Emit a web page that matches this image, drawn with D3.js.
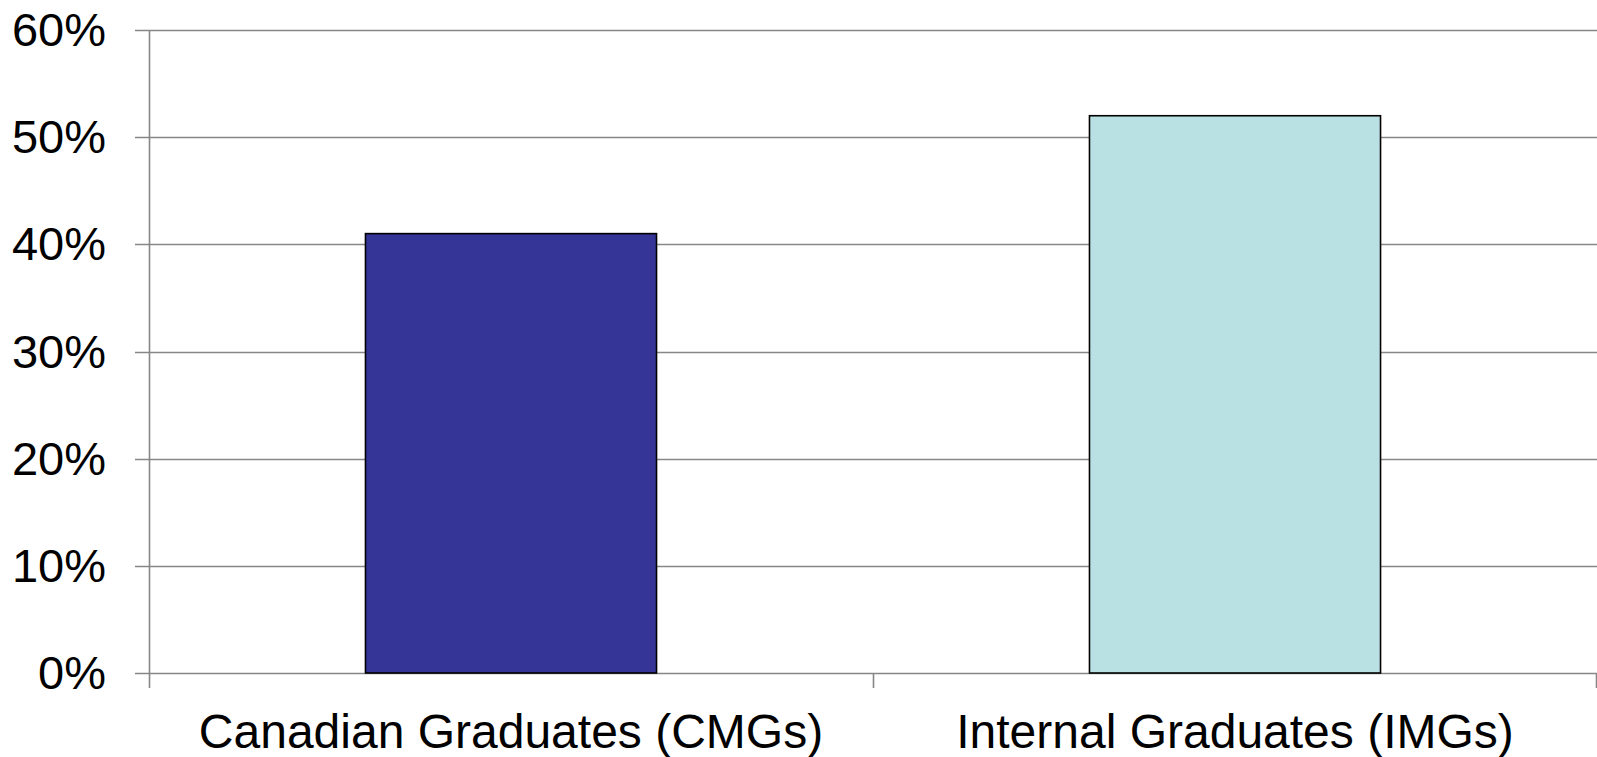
<!DOCTYPE html>
<html>
<head>
<meta charset="utf-8">
<script src="https://cdn.jsdelivr.net/npm/d3@7"></script>
<style>
  html, body { margin: 0; padding: 0; background: #ffffff; }
  svg { display: block; }
  text { font-family: "Liberation Sans", Arial, sans-serif; fill: #000; }
</style>
</head>
<body>
<svg id="chart" width="1597" height="757"></svg>
<script>
// Share of graduates, by place of medical training
const categories = ["Canadian Graduates (CMGs)", "Internal Graduates (IMGs)"];
const values = [0.41, 0.52];
const barColors = ["#353597", "#b9e0e3"];
const yTicks = [0, 0.1, 0.2, 0.3, 0.4, 0.5, 0.6];

const W = 1597, H = 757;
const margin = { top: 30, right: 0, bottom: 84, left: 149 };

const svg = d3.select("#chart");

const x = d3.scaleBand()
  .domain(categories)
  .range([margin.left, W - margin.right])
  .padding(0);

const y = d3.scaleLinear()
  .domain([0, 0.6])
  .range([H - margin.bottom, margin.top]);

const gridColor = "#878787";

// Horizontal gridlines (with small tick stubs left of the axis)
svg.append("g")
  .selectAll("line")
  .data(yTicks)
  .join("line")
  .attr("x1", margin.left - 14)
  .attr("x2", W - margin.right)
  .attr("y1", d => Math.round(y(d)) + 0.5)
  .attr("y2", d => Math.round(y(d)) + 0.5)
  .attr("stroke", gridColor)
  .attr("stroke-width", 1.6);

// Y axis line
svg.append("line")
  .attr("x1", margin.left + 0.5)
  .attr("x2", margin.left + 0.5)
  .attr("y1", y(0.6))
  .attr("y2", y(0) + 15)
  .attr("stroke", gridColor)
  .attr("stroke-width", 1.6);

// Category boundary ticks below the baseline
const boundaries = categories.slice(1).map(c => x(c)).concat([W - margin.right - 1]);
svg.append("g")
  .selectAll("line")
  .data(boundaries)
  .join("line")
  .attr("x1", d => Math.round(d) + 0.5)
  .attr("x2", d => Math.round(d) + 0.5)
  .attr("y1", y(0))
  .attr("y2", y(0) + 15)
  .attr("stroke", gridColor)
  .attr("stroke-width", 1.6);

// Y tick labels
svg.append("g")
  .selectAll("text")
  .data(yTicks)
  .join("text")
  .attr("x", 106)
  .attr("y", d => y(d) + 16)
  .attr("text-anchor", "end")
  .attr("font-size", 47)
  .text(d => d3.format(".0%")(d));

// Bars
const barFrac = 0.402;
svg.append("g")
  .selectAll("rect")
  .data(values)
  .join("rect")
  .attr("x", (d, i) => x(categories[i]) + x.bandwidth() * (1 - barFrac) / 2)
  .attr("width", x.bandwidth() * barFrac)
  .attr("y", d => y(d))
  .attr("height", d => y(0) - y(d))
  .attr("fill", (d, i) => barColors[i])
  .attr("stroke", "#000")
  .attr("stroke-width", 1.6);

// Category labels
svg.append("g")
  .selectAll("text")
  .data(categories)
  .join("text")
  .attr("x", d => x(d) + x.bandwidth() / 2)
  .attr("y", 748)
  .attr("text-anchor", "middle")
  .attr("font-size", 48)
  .text(d => d);
</script>
</body>
</html>
